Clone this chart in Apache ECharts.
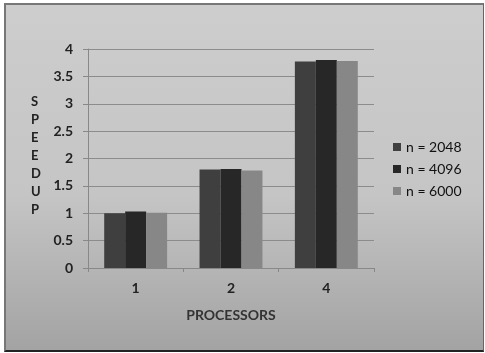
<!DOCTYPE html>
<html lang="en">
  <head>
    <meta charset="UTF-8" />
    <title>speedup</title>
    <style>
      body {
        margin: 0;
        background: #fff;
      }
      #frame {
        position: absolute;
        left: 4px;
        top: 3px;
        width: 477px;
        height: 345px;
        border-left: 2px solid #777;
        border-top: 2px solid #777;
        border-right: 1px solid #666;
        border-bottom: 2px solid #222;
        background: linear-gradient(#cdcdcd 0%, #c5c5c5 55%, #a3a3a3 100%);
      }
      #chart {
        position: absolute;
        left: 0;
        top: 0;
        width: 485px;
        height: 353px;
      }
    </style>
    <script src="https://cdn.jsdelivr.net/npm/echarts@6/dist/echarts.min.js"></script>
  </head>
  <body>
    <div id="frame"></div>
    <div id="chart"></div>

    <script>
      const processors = ["1", "2", "4"];
      const n2048 = [1.0, 1.8, 3.77];
      const n4096 = [1.03, 1.81, 3.8];
      const n6000 = [1.01, 1.78, 3.78];
      const seriesNames = ["n = 2048", "n = 4096", "n = 6000"];

      const font = "Lato, 'Open Sans', sans-serif";

      var myChart = echarts.init(document.getElementById("chart"));
      myChart.setOption({
        animation: false,
        color: ["#3f3f3f", "#272727", "#878787"],
        grid: { left: 88, top: 49, right: 111, bottom: 85 },
        legend: {
          orient: "vertical",
          left: 388,
          top: 135,
          icon: "rect",
          itemWidth: 8,
          itemHeight: 8,
          itemGap: 8,
          textStyle: { fontSize: 14, color: "#111", fontFamily: font, lineHeight: 14 },
          data: seriesNames,
        },
        graphic: [
          {
            type: "text",
            left: 31,
            top: 93,
            style: {
              text: "S\nP\nE\nE\nD\nU\nP",
              font: "bold 13px " + font,
              fill: "#222",
              lineHeight: 18,
              align: "center",
            },
          },
        ],
        xAxis: {
          type: "category",
          data: processors,
          name: "PROCESSORS",
          nameLocation: "middle",
          nameGap: 40,
          nameTextStyle: { fontSize: 14, fontWeight: "bold", color: "#333", fontFamily: font },
          axisLine: { lineStyle: { color: "#888" } },
          axisTick: { show: true, length: 4, lineStyle: { color: "#888" } },
          axisLabel: { fontSize: 14, fontWeight: "bold", color: "#222", margin: 13, fontFamily: font },
        },
        yAxis: {
          type: "value",
          min: 0,
          max: 4,
          interval: 0.5,
          axisLine: { show: true, lineStyle: { color: "#888" } },
          axisTick: { show: true, length: 5, lineStyle: { color: "#888" } },
          axisLabel: { fontSize: 14, fontWeight: "bold", color: "#222", margin: 15, fontFamily: font },
          splitLine: { lineStyle: { color: "#8c8c8c" } },
        },
        series: [
          { name: seriesNames[0], type: "bar", data: n2048, barGap: "0%", barCategoryGap: "34%" },
          { name: seriesNames[1], type: "bar", data: n4096, barGap: "0%", barCategoryGap: "34%" },
          { name: seriesNames[2], type: "bar", data: n6000, barGap: "0%", barCategoryGap: "34%" },
        ],
      });
    </script>
  </body>
</html>
